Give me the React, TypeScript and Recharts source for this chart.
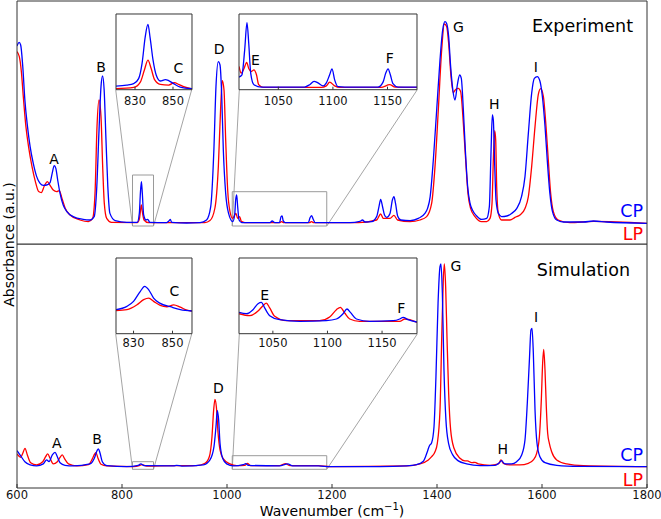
import React from 'react';
import { LineChart, Line, XAxis, YAxis, ReferenceLine, ReferenceArea, ReferenceDot } from 'recharts';

// ---------------- data ----------------
const xTicks = [600, 800, 1000, 1200, 1400, 1600, 1800];
const xDomain: [number, number] = [600, 1800];

// Experiment, CP (blue)
const expCpWn = [600, 604, 607, 611, 615, 620, 625, 631, 637.5, 644, 650, 656.5, 663, 667, 671, 674, 677.5, 682, 688, 695, 707, 726, 739, 747, 752, 756, 760, 763, 766, 769.5, 773, 777, 787, 809, 829, 833, 835, 837, 838.7, 841.3, 845.7, 849, 853, 885, 890, 892, 894.6, 923, 948.6, 961, 969, 975, 979, 983.5, 986.7, 989.8, 993, 997.5, 1003, 1011, 1014.6, 1016.5, 1018.4, 1020.3, 1023, 1028, 1082, 1086, 1091, 1100, 1103, 1105, 1107, 1111, 1155, 1158, 1161, 1164, 1168, 1196, 1215, 1234, 1253, 1258, 1263, 1275.5, 1285, 1289.5, 1292.7, 1296, 1300, 1304, 1310.5, 1315, 1318, 1321, 1325, 1331, 1349, 1364.5, 1377, 1382, 1387, 1393, 1399.4, 1405.7, 1410.8, 1415.2, 1418.4, 1422.2, 1426, 1429.8, 1434.3, 1438.7, 1443.2, 1446.3, 1450.2, 1454, 1458.4, 1463, 1468, 1475.6, 1485, 1494.6, 1499.7, 1503, 1505.4, 1507.3, 1510, 1512.4, 1517, 1523, 1533, 1542, 1552, 1561, 1567.6, 1574, 1580.3, 1585.4, 1591, 1596, 1600.6, 1605.7, 1610, 1615, 1620, 1628, 1640.6, 1679, 1698, 1723, 1800];
const expCpAbs = [0.89, 0.908, 0.895, 0.787, 0.62, 0.487, 0.387, 0.303, 0.237, 0.203, 0.193, 0.195, 0.207, 0.253, 0.292, 0.278, 0.22, 0.153, 0.095, 0.062, 0.037, 0.023, 0.02, 0.037, 0.187, 0.453, 0.687, 0.74, 0.67, 0.42, 0.187, 0.053, 0.017, 0.008, 0.008, 0.053, 0.153, 0.212, 0.153, 0.045, 0.02, 0.023, 0.008, 0.007, 0.017, 0.023, 0.008, 0.005, 0.007, 0.02, 0.087, 0.37, 0.687, 0.812, 0.795, 0.653, 0.37, 0.153, 0.053, 0.012, 0.045, 0.12, 0.145, 0.087, 0.02, 0.007, 0.007, 0.015, 0.007, 0.007, 0.037, 0.04, 0.017, 0.007, 0.007, 0.03, 0.042, 0.025, 0.007, 0.007, 0.007, 0.007, 0.013, 0.02, 0.01, 0.012, 0.037, 0.087, 0.123, 0.09, 0.045, 0.033, 0.053, 0.12, 0.137, 0.103, 0.04, 0.02, 0.017, 0.028, 0.053, 0.078, 0.137, 0.32, 0.57, 0.82, 0.97, 1.012, 1.003, 0.937, 0.787, 0.678, 0.62, 0.695, 0.745, 0.728, 0.57, 0.37, 0.187, 0.103, 0.067, 0.04, 0.023, 0.028, 0.087, 0.37, 0.545, 0.52, 0.287, 0.12, 0.053, 0.037, 0.04, 0.053, 0.078, 0.137, 0.237, 0.453, 0.653, 0.728, 0.737, 0.715, 0.64, 0.49, 0.32, 0.153, 0.062, 0.02, 0.01, 0.01, 0.015, 0.01, 0.003];

// Experiment, LP (red)
const expLpWn = [600, 604.4, 608.3, 612, 617, 622, 628.6, 635, 641.3, 646.3, 652, 657.8, 663, 669, 675.6, 680.6, 685.7, 692, 701, 720, 736, 744, 748.6, 752.4, 756.2, 760, 763.2, 766.3, 770.8, 780, 829, 833, 835, 836.8, 838.7, 842, 850, 958, 967.6, 977, 983.5, 988, 991, 994.3, 997.5, 1001.3, 1005.7, 1010.8, 1014.6, 1017, 1020.3, 1024, 1027.3, 1034, 1100, 1104, 1108, 1157, 1161, 1165, 1250, 1285, 1292.7, 1297.8, 1310.5, 1318, 1325, 1348.6, 1367.6, 1380.3, 1389.8, 1396.2, 1402.5, 1408.9, 1414, 1418.4, 1422.2, 1426.7, 1431, 1435.6, 1440.6, 1445, 1450.2, 1454.6, 1459, 1464, 1472.4, 1485, 1494.6, 1501, 1504.8, 1507.3, 1509.9, 1511.8, 1513.7, 1516.8, 1523, 1539, 1548.6, 1558, 1567.6, 1574, 1580.3, 1586.7, 1593, 1597.5, 1602.5, 1607.6, 1612, 1616.5, 1621.6, 1631, 1653, 1698, 1800];
const expLpAbs = [0.862, 0.837, 0.762, 0.637, 0.487, 0.387, 0.287, 0.212, 0.162, 0.157, 0.19, 0.212, 0.193, 0.17, 0.162, 0.167, 0.128, 0.078, 0.045, 0.02, 0.012, 0.028, 0.153, 0.487, 0.62, 0.537, 0.287, 0.103, 0.028, 0.008, 0.007, 0.023, 0.062, 0.095, 0.062, 0.02, 0.007, 0.007, 0.017, 0.08, 0.287, 0.587, 0.717, 0.67, 0.42, 0.17, 0.062, 0.028, 0.045, 0.053, 0.028, 0.037, 0.013, 0.007, 0.007, 0.012, 0.007, 0.007, 0.012, 0.007, 0.007, 0.02, 0.05, 0.028, 0.028, 0.043, 0.02, 0.012, 0.02, 0.037, 0.103, 0.287, 0.57, 0.87, 1.0, 0.987, 0.903, 0.737, 0.657, 0.673, 0.678, 0.662, 0.503, 0.32, 0.153, 0.078, 0.037, 0.012, 0.012, 0.028, 0.103, 0.32, 0.467, 0.42, 0.187, 0.053, 0.02, 0.02, 0.033, 0.045, 0.078, 0.137, 0.287, 0.487, 0.648, 0.677, 0.64, 0.49, 0.32, 0.153, 0.062, 0.02, 0.007, 0.013, 0.003];

// Simulation, CP (blue)
const simCpWn = [600, 605.7, 615, 625, 637.5, 650, 656.5, 661, 667.3, 672.4, 676.8, 682, 691.4, 707, 739, 747.3, 752.4, 755, 758, 762.5, 771, 809, 831, 836, 842, 898, 904, 914, 955, 967.6, 975.2, 979, 981.6, 984.1, 986.7, 991.7, 999.4, 1012, 1031, 1035.6, 1040.6, 1100, 1115.6, 1125, 1174, 1196, 1291, 1342, 1361, 1374, 1381.6, 1385.4, 1389.8, 1394.3, 1398, 1402, 1405.7, 1407.6, 1410.2, 1413.3, 1417, 1422, 1430, 1440.6, 1456.5, 1482, 1510.5, 1518.7, 1523.2, 1527.6, 1532.7, 1542, 1551.7, 1561.3, 1567.6, 1572, 1576, 1579, 1581, 1583.5, 1586.7, 1590.5, 1596, 1605.7, 1628, 1672, 1800];
const simCpAbs = [0.083, 0.062, 0.028, 0.012, 0.007, 0.017, 0.037, 0.028, 0.062, 0.075, 0.053, 0.023, 0.01, 0.007, 0.017, 0.045, 0.083, 0.092, 0.073, 0.028, 0.008, 0.003, 0.01, 0.017, 0.008, 0.007, 0.01, 0.006, 0.012, 0.037, 0.103, 0.203, 0.283, 0.237, 0.12, 0.045, 0.017, 0.007, 0.013, 0.018, 0.01, 0.007, 0.017, 0.007, 0.007, 0.003, 0.003, 0.007, 0.013, 0.03, 0.078, 0.107, 0.123, 0.203, 0.453, 0.82, 1.003, 1.017, 0.87, 0.487, 0.237, 0.12, 0.062, 0.032, 0.017, 0.008, 0.01, 0.023, 0.033, 0.02, 0.017, 0.017, 0.028, 0.062, 0.137, 0.32, 0.537, 0.687, 0.695, 0.57, 0.287, 0.12, 0.053, 0.023, 0.01, 0.005, 0.003];

// Simulation, LP (red)
const simLpWn = [600, 607, 611.4, 615.2, 619.7, 626, 637.5, 649, 654.6, 658.4, 663, 669, 676.8, 682, 686.3, 690.8, 698, 714, 736, 743.5, 748, 750.5, 754.3, 760, 771, 822, 833, 838, 847, 898, 942, 958, 966.3, 971.4, 974.6, 977.1, 979.7, 983, 986.7, 993, 1005.7, 1018.4, 1034, 1038.7, 1045, 1100, 1111.7, 1120, 1174, 1196, 1342, 1367.6, 1383.5, 1389.8, 1396.2, 1400.6, 1405.7, 1409.5, 1412, 1414, 1416.5, 1419, 1422.2, 1426, 1432.4, 1443.8, 1453.3, 1457.8, 1466, 1472.4, 1478.7, 1501, 1516.8, 1521.9, 1526.3, 1539, 1558, 1574, 1583.5, 1589.8, 1595, 1598.7, 1601.2, 1603.2, 1605.7, 1608.2, 1610.8, 1614, 1618.4, 1628, 1647, 1679, 1800];
const simLpAbs = [0.067, 0.05, 0.073, 0.095, 0.062, 0.023, 0.012, 0.028, 0.053, 0.067, 0.045, 0.017, 0.028, 0.05, 0.062, 0.042, 0.017, 0.007, 0.013, 0.042, 0.067, 0.073, 0.045, 0.015, 0.007, 0.003, 0.008, 0.013, 0.006, 0.008, 0.008, 0.02, 0.053, 0.153, 0.287, 0.34, 0.303, 0.17, 0.087, 0.042, 0.017, 0.008, 0.01, 0.02, 0.008, 0.008, 0.018, 0.008, 0.008, 0.003, 0.007, 0.017, 0.037, 0.053, 0.078, 0.12, 0.287, 0.703, 0.937, 1.017, 0.903, 0.653, 0.37, 0.187, 0.095, 0.045, 0.032, 0.032, 0.023, 0.025, 0.017, 0.01, 0.017, 0.037, 0.02, 0.012, 0.012, 0.02, 0.037, 0.07, 0.153, 0.337, 0.52, 0.59, 0.487, 0.303, 0.17, 0.12, 0.078, 0.037, 0.017, 0.008, 0.003];

// Insets (relative intensity within each inset)
const insetCTicks = [830, 850];
const insetEFTicks = [1050, 1100, 1150];

const expInsetCDomain: [number, number] = [820, 860];
const expInsetCCpWn = [820, 825.6, 829.3, 831.9, 833.7, 835.4, 836.8, 838, 839.5, 841.2, 843.3, 846, 847.7, 850.3, 853.8, 860];
const expInsetCCpAbs = [0.048, 0.061, 0.08, 0.146, 0.345, 0.7, 0.863, 0.677, 0.39, 0.19, 0.115, 0.133, 0.12, 0.08, 0.035, 0.013];
const expInsetCLpWn = [820, 829.3, 832.8, 834.9, 836.8, 838.5, 840.3, 843.3, 847.7, 850.7, 853, 855.6, 860];
const expInsetCLpAbs = [0.013, 0.03, 0.1, 0.256, 0.39, 0.279, 0.133, 0.07, 0.061, 0.093, 0.07, 0.04, 0.009];

const expInsetEFDomain: [number, number] = [1014, 1177];
const expInsetEFCpWn = [1014, 1016.7, 1019.2, 1021.3, 1022.9, 1024.7, 1027.7, 1034.5, 1074, 1078.7, 1082.7, 1086.3, 1091, 1094, 1097, 1099.2, 1101.6, 1104.7, 1110.8, 1141.3, 1145.9, 1148.4, 1150.5, 1152.6, 1155, 1159.6, 1177];
const expInsetEFCpAbs = [0.167, 0.197, 0.526, 0.886, 0.614, 0.22, 0.066, 0.035, 0.035, 0.066, 0.11, 0.09, 0.05, 0.09, 0.197, 0.276, 0.13, 0.04, 0.035, 0.035, 0.1, 0.22, 0.276, 0.197, 0.08, 0.035, 0.035];
const expInsetEFLpWn = [1014, 1016, 1018.6, 1021, 1022.9, 1025.3, 1027.7, 1030, 1032, 1036, 1089.4, 1094, 1097, 1101.6, 1106, 1144, 1152, 1157, 1177];
const expInsetEFLpAbs = [0.307, 0.22, 0.28, 0.36, 0.28, 0.24, 0.263, 0.197, 0.066, 0.03, 0.03, 0.05, 0.1, 0.05, 0.03, 0.03, 0.066, 0.035, 0.031];

const simInsetCDomain: [number, number] = [821, 860];
const simInsetCCpWn = [821, 826.6, 830, 833.5, 835.7, 837.8, 840.3, 843.7, 848.9, 854, 860];
const simInsetCCpAbs = [0.317, 0.361, 0.427, 0.56, 0.625, 0.58, 0.47, 0.4, 0.356, 0.317, 0.3];
const simInsetCLpWn = [821, 826.6, 831.8, 835.2, 837.8, 840.3, 843.7, 847.1, 850.6, 854, 857.4, 860];
const simInsetCLpAbs = [0.304, 0.317, 0.383, 0.45, 0.47, 0.427, 0.374, 0.356, 0.38, 0.35, 0.31, 0.3];

const simInsetEFDomain: [number, number] = [1019, 1182];
const simInsetEFCpWn = [1019, 1025.7, 1031.8, 1036.4, 1039.5, 1042.5, 1047.1, 1056.2, 1074.6, 1099, 1108.2, 1114.3, 1117.9, 1121, 1126.5, 1138.7, 1160.1, 1166.2, 1169.3, 1173.8, 1182];
const simInsetEFCpAbs = [0.282, 0.264, 0.317, 0.396, 0.414, 0.34, 0.238, 0.185, 0.163, 0.172, 0.194, 0.264, 0.326, 0.282, 0.194, 0.163, 0.172, 0.194, 0.216, 0.185, 0.154];
const simInsetEFLpWn = [1019, 1028.8, 1036.4, 1041, 1044, 1047.1, 1051.7, 1062.4, 1092.9, 1102, 1108.2, 1111.8, 1115.8, 1120.4, 1129.5, 1166.2, 1170.8, 1175.4, 1182];
const simInsetEFLpAbs = [0.264, 0.238, 0.3, 0.37, 0.405, 0.34, 0.23, 0.172, 0.172, 0.22, 0.317, 0.348, 0.273, 0.194, 0.163, 0.163, 0.194, 0.185, 0.15];

// Peak annotations
const expPeakText = ['A', 'B', 'D', 'G', 'H', 'I'];
const expPeakWn = [670.5, 760, 984.8, 1440.6, 1509.1, 1588];
const expPeakAbs = [0.3235, 0.7865, 0.875, 0.9865, 0.6, 0.7865];
const simPeakText = ['A', 'B', 'D', 'G', 'H', 'I'];
const simPeakWn = [675.6, 752.4, 983.4, 1436.2, 1525.1, 1588.6];
const simPeakAbs = [0.123, 0.1415, 0.398, 1.0065, 0.0915, 0.7505];

const expInsetCText = ['C'];
const expInsetCWn = [852.8];
const expInsetCAbs = [0.283];
const expInsetEFText = ['E', 'F'];
const expInsetEFWn = [1029, 1152];
const expInsetEFAbs = [0.395, 0.42];
const simInsetCText = ['C'];
const simInsetCWn = [850.9];
const simInsetCAbs = [0.559];
const simInsetEFText = ['E', 'F'];
const simInsetEFWn = [1042.5, 1167.7];
const simInsetEFAbs = [0.515, 0.343];

// Zoom boxes on the main panels (wavenumber range, absorbance range)
const zoomBoxWn: [number, number][] = [[820, 860], [1010, 1190]];
const expZoomBoxAbs: [number, number][] = [[-0.01, 0.245], [-0.01, 0.1615]];
const simZoomBoxAbs: [number, number][] = [[-0.01, 0.028], [-0.01, 0.058]];

// ---------------- layout / style ----------------
const FONT = '"DejaVu Sans", Verdana, sans-serif';
const BLUE = '#0000ff';
const RED = '#ff0000';
const AXIS = '#333333';
const GUIDE = '#9a9a9a';

const CHART_W = 661;
const PLOT_LEFT = 17;
const PLOT_RIGHT = 647;
const expDomain: [number, number] = [-0.1, 1.115];
const simDomain: [number, number] = [-0.1035, 1.1165];
const EXP_PLOT = { top: 1, bottom: 244 };
const SIM_PLOT = { top: 244, bottom: 488 };

const INSET_C = { left: 115.7, width: 76 };
const INSET_EF = { left: 239.3, width: 178 };
const INSET_H = 75.7;
const EXP_INSET_TOP = 14;
const SIM_INSET_TOP = 258.3;

type Pt = { w: number; a: number };
const toPoints = (ws: number[], as: number[]): Pt[] => ws.map((w, i) => ({ w, a: as[i] }));

const pxToWn = (px: number) => xDomain[0] + ((px - PLOT_LEFT) * (xDomain[1] - xDomain[0])) / (PLOT_RIGHT - PLOT_LEFT);
const pyToAbs = (py: number, plot: { top: number; bottom: number }, dom: [number, number]) =>
  dom[1] - ((py - plot.top) * (dom[1] - dom[0])) / (plot.bottom - plot.top);

function connectorsFor(boxAbs: [number, number][], insetTop: number, plot: { top: number; bottom: number }, dom: [number, number]) {
  const insetBottomAbs = pyToAbs(insetTop + INSET_H, plot, dom);
  const insets = [INSET_C, INSET_EF];
  const segs: { x1: number; y1: number; x2: number; y2: number }[] = [];
  zoomBoxWn.forEach((b, i) => {
    const ins = insets[i];
    segs.push({ x1: b[0], y1: boxAbs[i][0], x2: pxToWn(ins.left), y2: insetBottomAbs });
    segs.push({ x1: b[1], y1: boxAbs[i][0], x2: pxToWn(ins.left + ins.width), y2: insetBottomAbs });
  });
  return segs;
}

const tickStyle = { fontSize: 11.5, fill: '#111', fontFamily: FONT };
const letterStyle = { fontSize: 14, fill: '#000', fontFamily: FONT };

function Spectrum(props: {
  top: number;
  height: number;
  marginTop: number;
  marginBottom: number;
  labelledAxis: boolean;
  domain: [number, number];
  cp: Pt[];
  lp: Pt[];
  text: string[];
  textWn: number[];
  textAbs: number[];
  boxAbs: [number, number][];
  connectors: { x1: number; y1: number; x2: number; y2: number }[];
}) {
  return (
    <div style={{ position: 'absolute', left: 0, top: props.top }}>
      <LineChart
        width={CHART_W}
        height={props.height}
        margin={{ top: props.marginTop, right: CHART_W - PLOT_RIGHT, bottom: props.marginBottom, left: PLOT_LEFT }}
      >
        <XAxis xAxisId="t" orientation="top" mirror tick={false} tickSize={4} type="number" dataKey="w" domain={xDomain} ticks={xTicks} interval={0} allowDataOverflow stroke={AXIS} />
        {props.labelledAxis ? (
          <XAxis xAxisId="b" orientation="bottom" height={31} tickSize={-4} tickMargin={7} tick={tickStyle} type="number" dataKey="w" domain={xDomain} ticks={xTicks} interval={0} allowDataOverflow stroke={AXIS} />
        ) : (
          <XAxis xAxisId="b" orientation="bottom" mirror tick={false} tickSize={4} type="number" dataKey="w" domain={xDomain} ticks={xTicks} interval={0} allowDataOverflow stroke={AXIS} />
        )}
        <YAxis yAxisId="l" orientation="left" mirror type="number" domain={props.domain} allowDataOverflow tick={false} tickLine={false} stroke={AXIS} />
        <YAxis yAxisId="r" orientation="right" mirror type="number" domain={props.domain} allowDataOverflow tick={false} tickLine={false} stroke={AXIS} />
        {zoomBoxWn.map((b, i) => (
          <ReferenceArea key={'box' + i} xAxisId="b" yAxisId="l" x1={b[0]} x2={b[1]} y1={props.boxAbs[i][0]} y2={props.boxAbs[i][1]} fill="none" stroke={GUIDE} strokeWidth={1} ifOverflow="visible" />
        ))}
        {props.connectors.map((c, i) => (
          <ReferenceLine key={'con' + i} xAxisId="b" yAxisId="l" segment={[{ x: c.x1, y: c.y1 }, { x: c.x2, y: c.y2 }]} stroke={GUIDE} strokeWidth={0.9} ifOverflow="visible" />
        ))}
        <Line xAxisId="b" yAxisId="l" data={props.lp} dataKey="a" type="monotone" stroke={RED} strokeWidth={1.3} dot={false} isAnimationActive={false} />
        <Line xAxisId="b" yAxisId="l" data={props.cp} dataKey="a" type="monotone" stroke={BLUE} strokeWidth={1.3} dot={false} isAnimationActive={false} />
        {props.text.map((t, i) => (
          <ReferenceDot key={'lab' + i} xAxisId="b" yAxisId="l" x={props.textWn[i]} y={props.textAbs[i]} r={0} fill="none" stroke="none" label={{ value: t, position: 'center', ...letterStyle }} />
        ))}
      </LineChart>
    </div>
  );
}

function Inset(props: {
  left: number;
  top: number;
  width: number;
  domain: [number, number];
  ticks: number[];
  tickMargin: number;
  cp: Pt[];
  lp: Pt[];
  text: string[];
  textWn: number[];
  textAbs: number[];
}) {
  const axisH = 23;
  return (
    <div style={{ position: 'absolute', left: props.left - 1, top: props.top - 1 }}>
      <LineChart width={props.width + 2} height={INSET_H + 1 + axisH} margin={{ top: 1, right: 1, bottom: 0, left: 1 }}>
        <XAxis xAxisId="t" orientation="top" mirror tick={false} tickSize={3} type="number" dataKey="w" domain={props.domain} ticks={props.ticks} interval={0} allowDataOverflow stroke={AXIS} />
        <XAxis xAxisId="b" orientation="bottom" height={axisH} tickSize={-3} tickMargin={props.tickMargin} tick={tickStyle} type="number" dataKey="w" domain={props.domain} ticks={props.ticks} interval={0} allowDataOverflow stroke={AXIS} />
        <YAxis yAxisId="l" orientation="left" mirror type="number" domain={[0, 1]} allowDataOverflow tick={false} tickLine={false} stroke={AXIS} />
        <YAxis yAxisId="r" orientation="right" mirror type="number" domain={[0, 1]} allowDataOverflow tick={false} tickLine={false} stroke={AXIS} />
        <Line xAxisId="b" yAxisId="l" data={props.lp} dataKey="a" type="monotone" stroke={RED} strokeWidth={1.3} dot={false} isAnimationActive={false} />
        <Line xAxisId="b" yAxisId="l" data={props.cp} dataKey="a" type="monotone" stroke={BLUE} strokeWidth={1.3} dot={false} isAnimationActive={false} />
        {props.text.map((t, i) => (
          <ReferenceDot key={'ilab' + i} xAxisId="b" yAxisId="l" x={props.textWn[i]} y={props.textAbs[i]} r={0} fill="none" stroke="none" label={{ value: t, position: 'center', ...letterStyle }} />
        ))}
      </LineChart>
    </div>
  );
}

export default function App() {
  const expConnectors = connectorsFor(expZoomBoxAbs, EXP_INSET_TOP, EXP_PLOT, expDomain);
  const simConnectors = connectorsFor(simZoomBoxAbs, SIM_INSET_TOP, SIM_PLOT, simDomain);
  return (
    <div style={{ position: 'absolute', left: 0, top: 0, width: CHART_W, height: 519, background: '#fff', fontFamily: FONT, overflow: 'hidden' }}>
      <Spectrum
        top={0}
        height={245}
        marginTop={EXP_PLOT.top}
        marginBottom={245 - EXP_PLOT.bottom}
        labelledAxis={false}
        domain={expDomain}
        cp={toPoints(expCpWn, expCpAbs)}
        lp={toPoints(expLpWn, expLpAbs)}
        text={expPeakText}
        textWn={expPeakWn}
        textAbs={expPeakAbs}
        boxAbs={expZoomBoxAbs}
        connectors={expConnectors}
      />
      <Spectrum
        top={SIM_PLOT.top}
        height={519 - SIM_PLOT.top}
        marginTop={0}
        marginBottom={0}
        labelledAxis={true}
        domain={simDomain}
        cp={toPoints(simCpWn, simCpAbs)}
        lp={toPoints(simLpWn, simLpAbs)}
        text={simPeakText}
        textWn={simPeakWn}
        textAbs={simPeakAbs}
        boxAbs={simZoomBoxAbs}
        connectors={simConnectors}
      />
      <Inset left={INSET_C.left} top={EXP_INSET_TOP} width={INSET_C.width} domain={expInsetCDomain} ticks={insetCTicks} tickMargin={10}
        cp={toPoints(expInsetCCpWn, expInsetCCpAbs)} lp={toPoints(expInsetCLpWn, expInsetCLpAbs)}
        text={expInsetCText} textWn={expInsetCWn} textAbs={expInsetCAbs} />
      <Inset left={INSET_EF.left} top={EXP_INSET_TOP} width={INSET_EF.width} domain={expInsetEFDomain} ticks={insetEFTicks} tickMargin={10}
        cp={toPoints(expInsetEFCpWn, expInsetEFCpAbs)} lp={toPoints(expInsetEFLpWn, expInsetEFLpAbs)}
        text={expInsetEFText} textWn={expInsetEFWn} textAbs={expInsetEFAbs} />
      <Inset left={INSET_C.left} top={SIM_INSET_TOP} width={INSET_C.width} domain={simInsetCDomain} ticks={insetCTicks} tickMargin={8}
        cp={toPoints(simInsetCCpWn, simInsetCCpAbs)} lp={toPoints(simInsetCLpWn, simInsetCLpAbs)}
        text={simInsetCText} textWn={simInsetCWn} textAbs={simInsetCAbs} />
      <Inset left={INSET_EF.left} top={SIM_INSET_TOP} width={INSET_EF.width} domain={simInsetEFDomain} ticks={insetEFTicks} tickMargin={8}
        cp={toPoints(simInsetEFCpWn, simInsetEFCpAbs)} lp={toPoints(simInsetEFLpWn, simInsetEFLpAbs)}
        text={simInsetEFText} textWn={simInsetEFWn} textAbs={simInsetEFAbs} />
      <svg width={CHART_W} height={519} style={{ position: 'absolute', left: 0, top: 0, pointerEvents: 'none' }} fontFamily={FONT}>
        <text x={633} y={31.7} textAnchor="end" fontSize={17.5} fill="#000">Experiment</text>
        <text x={630} y={275.7} textAnchor="end" fontSize={17.5} fill="#000">Simulation</text>
        <text x={643} y={216.7} textAnchor="end" fontSize={17.5} fill={BLUE}>CP</text>
        <text x={643} y={240} textAnchor="end" fontSize={17.5} fill={RED}>LP</text>
        <text x={643} y={460.7} textAnchor="end" fontSize={17.5} fill={BLUE}>CP</text>
        <text x={643} y={485.7} textAnchor="end" fontSize={17.5} fill={RED}>LP</text>
        <text transform="translate(13.5,244.5) rotate(-90)" textAnchor="middle" fontSize={14} fill="#000">Absorbance (a.u.)</text>
        <text x={332} y={516} textAnchor="middle" fontSize={14} fill="#000">
          Wavenumber (cm<tspan fontSize={10} dy={-6}>−1</tspan><tspan dy={6}>)</tspan>
        </text>
      </svg>
    </div>
  );
}
